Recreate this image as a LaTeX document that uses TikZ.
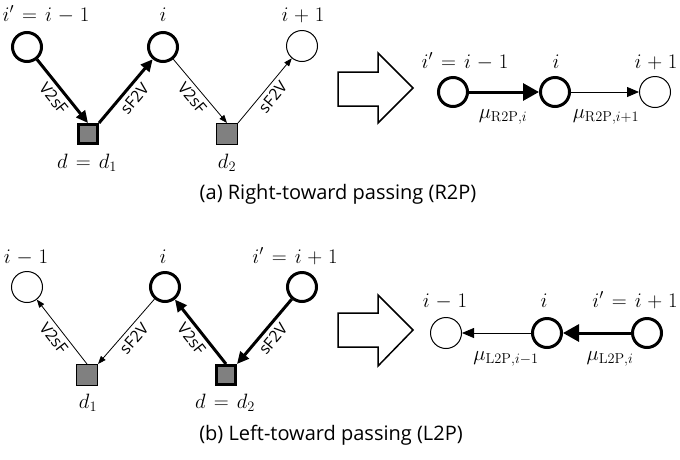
\documentclass[tikz,border=0pt]{standalone}
\usepackage[no-math]{fontspec}
\setmainfont{Open Sans}
\usetikzlibrary{arrows.meta}
\thickmuskip=7mu
\medmuskip=5mu
\begin{document}
\begin{tikzpicture}[x=1pt,y=-1pt,
  vthick/.style={circle,draw,line width=3pt,minimum size=29pt,inner sep=0pt},
  vthin/.style={circle,draw,line width=1pt,minimum size=31pt,inner sep=0pt},
  fthick/.style={rectangle,draw,fill=gray,line width=3pt,minimum size=19pt,inner sep=0pt},
  fthin/.style={rectangle,draw,fill=gray,line width=1pt,minimum size=21pt,inner sep=0pt},
  ethick/.style={line width=3pt,-{Triangle[length=12pt,width=11pt]}},
  ethin/.style={line width=0.8pt,-{Triangle[length=8pt,width=6pt]}},
  rthick/.style={line width=3pt,-{Triangle[length=16pt,width=17pt]}},
  rthin/.style={line width=0.8pt,-{Triangle[length=12pt,width=10pt]}},
  mlab/.style={font=\fontsize{20}{24}\selectfont,inner sep=0pt,anchor=base},
  mulab/.style={font=\fontsize{20}{24}\selectfont,inner sep=0pt,anchor=base},
  elab/.style={font=\fontsize{16}{18}\selectfont,sloped,below,inner sep=4pt},
  captext/.style={font=\fontsize{20}{24}\selectfont,inner sep=0pt,anchor=base},
  bigarrow/.style={draw,line width=1.5pt,line join=miter}
]
\useasboundingbox (0,0) rectangle (680,459);

% ---------- (a) left ----------
\node[vthick] (a1) at (27,47) {};
\node[vthick] (a2) at (163,47) {};
\node[vthin]  (a3) at (302,46) {};
\node[fthick] (ad1) at (88,134) {};
\node[fthin]  (ad2) at (227,134) {};
\node[mlab] (ta1) at (46,21) {$i'=i-1$};
\node[mlab] (ta2) at (163,21) {$i$};
\node[mlab] (ta3) at (303,21) {$i+1$};
\node[mlab] (tad1) at (87,168) {$d=d_1$};
\node[mlab] (tad2) at (227,168) {$d_2$};
\draw[ethick] (a1) -- node[elab] {V2sF} (ad1.north);
\draw[ethick] (ad1.north east) -- node[elab] {sF2V} (a2);
\draw[ethin] (a2) -- node[elab] {V2sF} (ad2.north);
\draw[ethin] (ad2.north east) -- node[elab] {sF2V} (a3);

% big arrow (a)
\draw[bigarrow] (338,72) -- (378,72) -- (378,53) -- (413,88) -- (378,123) -- (378,106) -- (338,106) -- cycle;

% ---------- (a) right ----------
\node[vthick] (ra1) at (453,92) {};
\node[vthick] (ra2) at (555,92) {};
\node[vthin]  (ra3) at (655,92) {};
\node[mlab] (tra1) at (465,68) {$i'=i-1$};
\node[mlab] (tra2) at (556,68) {$i$};
\node[mlab] (tra3) at (656,68) {$i+1$};
\draw[rthick] (ra1) -- (ra2);
\draw[rthin] (ra2) -- (ra3);
\node[mulab] (mua1) at (503,118) {$\mu_{\mathrm{R2P},i}$};
\node[mulab] (mua2) at (606,118) {$\mu_{\mathrm{R2P},i+1}$};

\node[captext] (capa) at (338,199) {(a) Right-toward passing (R2P)};

% ---------- (b) left ----------
\node[vthin]  (b1) at (27,287) {};
\node[vthick] (b2) at (165,287) {};
\node[vthick] (b3) at (302,287) {};
\node[fthin]  (bd1) at (87,375) {};
\node[fthick] (bd2) at (226,375) {};
\node[mlab] (tb1) at (26,263) {$i-1$};
\node[mlab] (tb2) at (163,263) {$i$};
\node[mlab] (tb3) at (295,263) {$i'=i+1$};
\node[mlab] (tbd1) at (88,408) {$d_1$};
\node[mlab] (tbd2) at (225,408) {$d=d_2$};
\draw[ethin] (bd1.north) -- node[elab] {V2sF} (b1);
\draw[ethin] (b2) -- node[elab] {sF2V} (bd1.north east);
\draw[ethick] (bd2.north) -- node[elab] {V2sF} (b2);
\draw[ethick] (b3) -- node[elab] {sF2V} (bd2.north east);

% big arrow (b)
\draw[bigarrow] (338,313) -- (378,313) -- (378,295) -- (413,330) -- (378,366) -- (378,347) -- (338,347) -- cycle;

% ---------- (b) right ----------
\node[vthin]  (rb1) at (446,333) {};
\node[vthick] (rb2) at (547,333) {};
\node[vthick] (rb3) at (647,333) {};
\node[mlab] (trb1) at (445,307) {$i-1$};
\node[mlab] (trb2) at (544,307) {$i$};
\node[mlab] (trb3) at (635,307) {$i'=i+1$};
\draw[rthin] (rb2) -- (rb1);
\draw[rthick] (rb3) -- (rb2);
\node[mulab] (mub1) at (506,360) {$\mu_{\mathrm{L2P},i-1}$};
\node[mulab] (mub2) at (610,360) {$\mu_{\mathrm{L2P},i}$};

\node[captext] (capb) at (331,440) {(b) Left-toward passing (L2P)};
\end{tikzpicture}
\end{document}
